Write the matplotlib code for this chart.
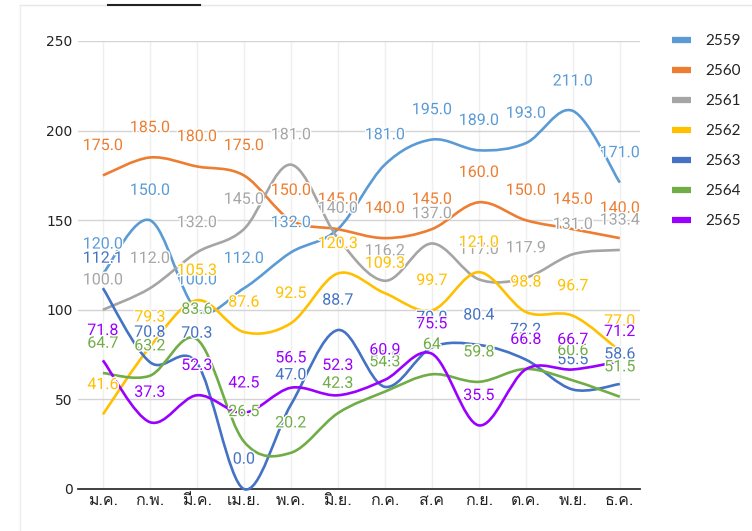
import matplotlib
matplotlib.use("Agg")
import matplotlib.pyplot as plt
import matplotlib.patheffects as pe
from matplotlib import font_manager, ft2font
from matplotlib.lines import Line2D
from matplotlib.path import Path
from matplotlib.patches import PathPatch
import numpy as np

months = ["ม.ค.", "ก.พ.", "มี.ค.", "เม.ย.", "พ.ค.", "มิ.ย.",
          "ก.ค.", "ส.ค", "ก.ย.", "ต.ค.", "พ.ย.", "ธ.ค."]
years = ["2559", "2560", "2561", "2562", "2563", "2564", "2565"]
colors = ["#5B9BD5", "#ED7D31", "#A5A5A5", "#FFC000", "#4472C4", "#70AD47", "#9900FF"]

y2559 = [120.0, 150.0, 100.0, 112.0, 132.0, 145.0, 181.0, 195.0, 189.0, 193.0, 211.0, 171.0]
y2560 = [175.0, 185.0, 180.0, 175.0, 150.0, 145.0, 140.0, 145.0, 160.0, 150.0, 145.0, 140.0]
y2561 = [100.0, 112.0, 132.0, 145.0, 181.0, 140.0, 116.2, 137.0, 117.0, 117.9, 131.0, 133.4]
y2562 = [41.6, 79.3, 105.3, 87.6, 92.5, 120.3, 109.3, 99.7, 121.0, 98.8, 96.7, 77.0]
y2563 = [112.1, 70.8, 70.3, 0.0, 47.0, 88.7, 57.0, 79.0, 80.4, 72.2, 55.5, 58.6]
y2564 = [64.7, 63.2, 83.6, 26.5, 20.2, 42.3, 54.3, 64.0, 59.8, 67.0, 60.6, 51.5]
y2565 = [71.8, 37.3, 52.3, 42.5, 56.5, 52.3, 60.9, 75.5, 35.5, 66.8, 66.7, 71.2]
series = [y2559, y2560, y2561, y2562, y2563, y2564, y2565]


def find_thai_font():
    for f in font_manager.fontManager.ttflist:
        try:
            if 0x0E01 in ft2font.FT2Font(f.fname).get_charmap():
                return f.name
        except Exception:
            pass
    return None


def smooth_path(xs, ys):
    # Catmull-Rom style cubic bezier through every point
    p = np.column_stack([xs, ys]).astype(float)
    ext = np.vstack([p[0], p, p[-1]])
    verts = [p[0]]
    codes = [Path.MOVETO]
    for i in range(len(p) - 1):
        c1 = ext[i + 1] + (ext[i + 2] - ext[i]) / 6.0
        c2 = ext[i + 2] - (ext[i + 3] - ext[i + 1]) / 6.0
        verts += [c1, c2, p[i + 1]]
        codes += [Path.CURVE4] * 3
    return Path(verts, codes)


thai = find_thai_font()
month_family = [thai, "DejaVu Sans"] if thai else ["DejaVu Sans"]

fig = plt.figure(figsize=(7.52, 5.31), dpi=100)
ax = fig.add_axes([78 / 752, 42 / 531, 562 / 752, 448 / 531])

x = np.arange(len(months))
for vals, col in zip(series, colors):
    ax.add_patch(PathPatch(smooth_path(x, vals), facecolor="none", edgecolor=col,
                           lw=1.9, clip_on=False, zorder=3))

halo = [pe.withStroke(linewidth=2, foreground="white")]
for vals, col in zip(series, colors):
    for xi, v in zip(x, vals):
        ax.annotate("{:.1f}".format(v) if v != 64.0 else "64", (xi, v),
                    xytext=(0, 21.5), textcoords="offset points", ha="center", va="center",
                    color=col, fontsize=11.5, family="Roboto", zorder=5,
                    path_effects=halo, annotation_clip=False)

ax.set_xlim(-0.53, 11.43)
ax.set_ylim(0, 250)
ax.set_yticks(range(0, 251, 50))
ax.set_xticks(x)
ax.set_xticklabels(months, family=month_family, fontsize=11.5, color="#222222")
for lab in ax.get_yticklabels():
    lab.set_family("DejaVu Sans")
ax.tick_params(axis="y", length=0, pad=4, labelsize=10, labelcolor="#222222")
ax.tick_params(axis="x", length=0, pad=3)
ax.grid(axis="y", color="#d4d4d4", lw=1)
ax.grid(axis="x", color="#efefef", lw=1)
ax.set_axisbelow(True)
for s in ["top", "right", "left"]:
    ax.spines[s].set_visible(False)
ax.spines["bottom"].set_color("#333333")
ax.spines["bottom"].set_linewidth(1.3)

handles = [Line2D([], [], color=c, lw=4.5, solid_capstyle="butt") for c in colors]
fig.legend(handles, years, loc="upper left", bbox_to_anchor=(672 / 752, 1 - 34 / 531),
           frameon=False, handlelength=1.25, handletextpad=0.9, labelspacing=1.05,
           borderpad=0, borderaxespad=0, prop={"family": "Lato", "size": 11},
           labelcolor="#222222")

# chart frame bits visible in the screenshot
fig.add_artist(Line2D([20 / 752, 1], [1 - 5 / 531] * 2, color="#e6e6e6", lw=1))
fig.add_artist(Line2D([20 / 752] * 2, [0, 1 - 5 / 531], color="#ececec", lw=1))
fig.add_artist(Line2D([108 / 752, 200 / 752], [1 - 5 / 531] * 2, color="#222222", lw=1.5))

fig.savefig("out.png", dpi=100)
